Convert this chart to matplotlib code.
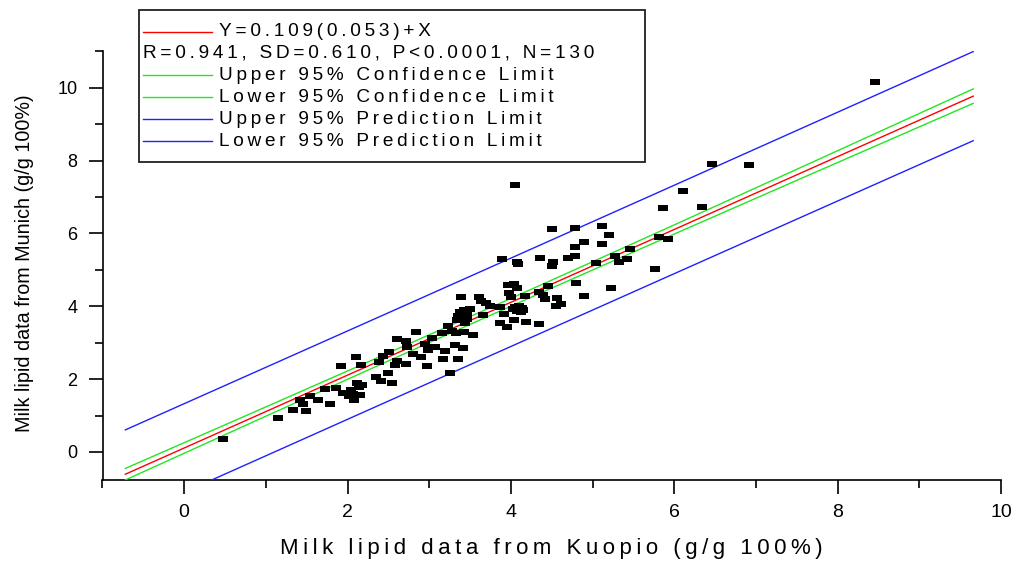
import numpy as np
import matplotlib
matplotlib.use("Agg")
import matplotlib.pyplot as plt
from matplotlib.lines import Line2D
from matplotlib.patches import Rectangle
from matplotlib.ticker import MultipleLocator

# Paired milk lipid measurements (g/g 100%)
kuopio = [
    0.47, 1.15, 1.33, 1.49, 1.42, 1.45, 1.54, 1.64, 1.72, 1.79,
    1.86, 1.92, 3.39, 3.35, 3.44, 3.33, 3.43, 3.23, 2.84, 2.61,
    2.72, 3.04, 2.95, 2.73, 3.07, 3.19, 3.32, 3.41, 2.51, 2.44,
    2.10, 2.90, 3.17, 3.35, 2.17, 2.39, 2.60, 2.58, 2.71, 2.97,
    3.25, 2.49, 2.35, 2.41, 2.54, 2.12, 2.14, 1.95, 2.04, 2.02,
    2.15, 4.50, 4.79, 3.89, 4.08, 4.09, 4.36, 4.52, 4.50, 4.70,
    4.79, 4.79, 4.80, 3.96, 4.04, 4.08, 3.98, 4.00, 4.17, 4.34,
    4.39, 4.56, 4.55, 4.61, 3.61, 3.63, 3.70, 3.87, 4.05, 4.13,
    4.08, 3.42, 3.46, 3.34, 3.16, 3.54, 3.91, 3.87, 3.95, 4.04,
    4.18, 4.34, 6.46, 6.11, 5.86, 6.34, 5.12, 5.20, 4.89, 5.11,
    5.81, 5.92, 5.46, 5.27, 5.42, 5.32, 5.04, 5.77, 5.23, 4.90,
    8.46, 6.91, 4.05, 4.45, 4.12, 3.66, 3.50, 3.38, 4.15, 4.02,
    2.07, 2.18, 2.08, 3.46, 4.10, 3.28, 2.98, 2.80, 4.42, 3.75,
]
munich = [
    0.36, 0.94, 1.14, 1.13, 1.42, 1.32, 1.54, 1.44, 1.74, 1.33,
    1.75, 2.36, 4.26, 3.74, 3.53, 3.27, 3.28, 3.46, 3.28, 3.10,
    3.05, 3.12, 2.96, 2.87, 2.87, 2.78, 2.94, 2.86, 2.75, 2.64,
    2.62, 2.60, 2.54, 2.56, 2.39, 2.48, 2.51, 2.39, 2.42, 2.37,
    2.18, 2.18, 2.07, 1.96, 1.89, 1.89, 1.77, 1.63, 1.70, 1.54,
    1.56, 6.11, 6.14, 5.29, 5.22, 5.15, 5.33, 5.22, 5.11, 5.33,
    5.38, 5.64, 4.63, 4.58, 4.61, 4.51, 4.37, 4.26, 4.28, 4.40,
    4.31, 4.22, 4.01, 4.06, 4.25, 4.15, 4.10, 3.99, 3.97, 3.94,
    3.88, 3.90, 3.76, 3.62, 3.26, 3.21, 3.79, 3.55, 3.42, 3.62,
    3.58, 3.51, 7.91, 7.17, 6.71, 6.72, 6.20, 5.96, 5.76, 5.71,
    5.89, 5.85, 5.56, 5.38, 5.30, 5.22, 5.20, 5.02, 4.49, 4.29,
    10.16, 7.88, 7.34, 4.56, 3.84, 3.76, 3.92, 3.84, 3.90, 3.92,
    1.60, 1.84, 1.42, 3.66, 4.02, 3.33, 2.81, 2.68, 4.20, 4.02,
]

# Fit statistics: Y = A(SE) + X
intercept = 0.109
intercept_se = 0.053
slope = 1.0
corr_r = 0.941
resid_sd = 0.610
n_obs = 130
t95 = 1.979
x_center = 3.55
slope_se = 0.0139
fit_range = [-0.72, 9.66]

legend_labels = [
    "Y=0.109(0.053)+X",
    "R=0.941, SD=0.610, P<0.0001, N=130",
    "Upper 95% Confidence Limit",
    "Lower 95% Confidence Limit",
    "Upper 95% Prediction Limit",
    "Lower 95% Prediction Limit",
]
legend_colors = ["#ff0000", None, "#22e622", "#22e622", "#2020ff", "#2020ff"]

x_ticks = [0, 2, 4, 6, 8, 10]
y_ticks = [0, 2, 4, 6, 8, 10]

THIN = "\u2009"


def tracked(s, n=1):
    """Open up letter spacing by interleaving thin spaces."""
    return (THIN * n).join(s)


W, H = 1019, 563
fig = plt.figure(figsize=(W / 100, H / 100), dpi=100)


def fx(px):
    return px / W


def fy(py):
    return 1 - py / H


ax_left, ax_right, ax_top, ax_bottom = 102.5, 1001, 51.3, 480
ax = fig.add_axes([fx(ax_left), fy(ax_bottom),
                   (ax_right - ax_left) / W, (ax_bottom - ax_top) / H])

sans = ["Liberation Sans", "DejaVu Sans"]
narrow = ["Liberation Sans Narrow", "Liberation Sans", "DejaVu Sans"]

# regression line with confidence and prediction bands
xs = np.linspace(fit_range[0], fit_range[1], 200)
fit = intercept + slope * xs
se_fit = np.sqrt(resid_sd ** 2 / n_obs + slope_se ** 2 * (xs - x_center) ** 2)
ci = t95 * se_fit
pi = t95 * np.sqrt(resid_sd ** 2 + se_fit ** 2)

ax.plot(xs, fit, color=legend_colors[0], lw=1.0, zorder=3)
ax.plot(xs, fit + ci, color=legend_colors[2], lw=1.0, zorder=3)
ax.plot(xs, fit - ci, color=legend_colors[3], lw=1.0, zorder=3)
ax.plot(xs, fit + pi, color=legend_colors[4], lw=1.0, zorder=3)
ax.plot(xs, fit - pi, color=legend_colors[5], lw=1.0, zorder=3)

rect_marker = [(-5, -3.2), (5, -3.2), (5, 3.2), (-5, 3.2), (-5, -3.2)]
ax.plot(kuopio, munich, linestyle="none", marker=rect_marker,
        markersize=7.6, color="black", markeredgewidth=0, zorder=4)

ax.set_xlim(-1, 10)
ax.set_ylim(-0.77, 11)
for side in ("top", "right"):
    ax.spines[side].set_visible(False)
for side in ("left", "bottom"):
    ax.spines[side].set_linewidth(1.2)

ax.set_xticks(x_ticks)
ax.set_yticks(y_ticks)
ax.xaxis.set_minor_locator(MultipleLocator(1))
ax.yaxis.set_minor_locator(MultipleLocator(1))
ax.tick_params(which="major", direction="out", length=10, width=1.2)
ax.tick_params(which="minor", direction="out", length=6, width=1.2)
ax.tick_params(axis="y", which="major", pad=8)
ax.tick_params(axis="x", which="major", pad=7)
ax.set_yticklabels([str(v) for v in y_ticks], fontsize=13, family=sans)
ax.set_xticklabels([str(v) for v in x_ticks], fontsize=14, family=narrow)

ax.set_ylabel("Milk lipid data from Munich (g/g 100%)", fontsize=14.2,
              family=sans)
ax.yaxis.set_label_coords((34 - ax_left) / (ax_right - ax_left), 0.506)
ax.set_xlabel(tracked("Milk lipid data from Kuopio (g/g 100%)", 1),
              fontsize=16, family=narrow)
ax.xaxis.set_label_coords(0.5, (ax_bottom - 538) / (ax_bottom - ax_top))

# legend panel
box = Rectangle((fx(139), fy(162)), fx(645) - fx(139), fy(10) - fy(162),
                transform=fig.transFigure, facecolor="white",
                edgecolor="#202020", lw=1.3, zorder=5)
fig.add_artist(box)
row_y = [32, 53.5, 75, 97, 119, 141]
for label, color, ry in zip(legend_labels, legend_colors, row_y):
    if color is not None:
        fig.add_artist(Line2D([fx(143), fx(212)], [fy(ry), fy(ry)],
                              transform=fig.transFigure, color=color,
                              lw=1.0, zorder=6))
        tx = 219
    else:
        tx = 143
    fig.text(fx(tx), fy(ry), tracked(label), fontsize=13.7, family=sans,
             ha="left", va="center", zorder=6)

fig.savefig("out.png", dpi=100)
